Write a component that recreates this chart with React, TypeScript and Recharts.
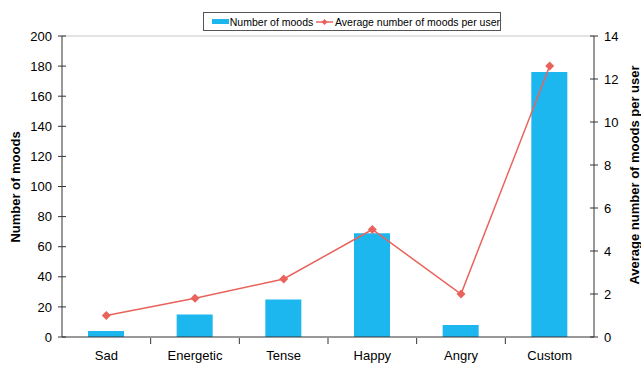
import React from 'react';
import {
  ComposedChart, Bar, Line, XAxis, YAxis, Legend, ReferenceLine,
} from 'recharts';

const categories = ['Sad', 'Energetic', 'Tense', 'Happy', 'Angry', 'Custom'];
const moodCounts = [4, 15, 25, 69, 8, 176];
const avgPerUser = [1.0, 1.8, 2.7, 5.0, 2.0, 12.6];
const countTicks = [0, 20, 40, 60, 80, 100, 120, 140, 160, 180, 200];
const avgTicks = [0, 2, 4, 6, 8, 10, 12, 14];

const BAR_COLOR = '#1bb7ee';
const LINE_COLOR = '#e9625c';
const FONT = '"Liberation Sans", Arial, sans-serif';

const data = categories.map((name, i) => ({
  name,
  moods: moodCounts[i],
  avg: avgPerUser[i],
}));

// tick marks that cross the axis line, like the old office charts
const LeftTick = (props: any) => {
  const { x, y, payload } = props;
  return (
    <g>
      <line x1={x + 6} x2={x + 14} y1={y} y2={y} stroke="#333" />
      <text x={x} y={y} dy="0.36em" textAnchor="end" fontSize={13} fill="#000" fontFamily={FONT}>
        {payload.value}
      </text>
    </g>
  );
};

const RightTick = (props: any) => {
  const { x, y, payload } = props;
  return (
    <g>
      <line x1={x - 14} x2={x - 6} y1={y} y2={y} stroke="#333" />
      <text x={x} y={y} dy="0.36em" textAnchor="start" fontSize={13} fill="#000" fontFamily={FONT}>
        {payload.value}
      </text>
    </g>
  );
};

// category label plus a separator tick at the right edge of each band
const CategoryTick = (props: any) => {
  const { x, y, payload, index, visibleTicksCount } = props;
  const half = payload.offset || 0;
  return (
    <g>
      {index < visibleTicksCount - 1 && (
        <line x1={x + half} x2={x + half} y1={y - 10} y2={y - 4} stroke="#333" />
      )}
      <text x={x} y={y} dy="0.9em" textAnchor="middle" fontSize={13} fill="#000" fontFamily={FONT}>
        {payload.value}
      </text>
    </g>
  );
};

const Diamond = (props: any) => {
  const { cx, cy } = props;
  if (cx == null || cy == null) return null;
  const r = 4.5;
  return (
    <polygon
      points={`${cx},${cy - r} ${cx + r},${cy} ${cx},${cy + r} ${cx - r},${cy}`}
      fill={LINE_COLOR}
    />
  );
};

const LegendBox = () => (
  <div
    style={{
      position: 'absolute',
      left: 203,
      top: 12,
      width: 298,
      height: 19,
      border: '1px solid #555',
      background: '#fff',
      display: 'flex',
      alignItems: 'center',
      fontFamily: FONT,
      fontSize: 10.5,
      color: '#000',
      whiteSpace: 'nowrap',
      boxSizing: 'border-box',
    }}
  >
    <span style={{ display: 'inline-block', width: 17, height: 5, background: BAR_COLOR, marginLeft: 8 }} />
    <span style={{ marginLeft: 1 }}>Number of moods</span>
    <svg width={17} height={10} style={{ marginLeft: 3 }}>
      <line x1={0} x2={17} y1={5} y2={5} stroke={LINE_COLOR} strokeWidth={1.5} />
      <polygon points="8.5,2 11.5,5 8.5,8 5.5,5" fill={LINE_COLOR} />
    </svg>
    <span style={{ marginLeft: 2 }}>Average number of moods per user</span>
  </div>
);

export default function App() {
  return (
    <div style={{ position: 'absolute', left: 0, top: 0, width: 641, height: 367, background: '#fff' }}>
      <ComposedChart
        width={641}
        height={367}
        data={data}
        margin={{ top: 36, right: 0, left: 0, bottom: 0 }}
        barCategoryGap="20%"
      >
        <XAxis
          dataKey="name"
          yAxisId="left"
          height={30}
          tickLine={false}
          tickSize={5}
          tickMargin={6}
          axisLine={{ stroke: '#333' }}
          tick={<CategoryTick />}
          interval={0}
        />
        <YAxis
          yAxisId="left"
          width={62}
          domain={[0, 200]}
          ticks={countTicks}
          interval={0}
          tickLine={false}
          tickSize={4}
          tickMargin={6}
          axisLine={{ stroke: '#333' }}
          tick={<LeftTick />}
          label={{
            content: () => (
              <text
                transform="translate(15,187) rotate(-90)"
                textAnchor="middle"
                dominantBaseline="central"
                fontSize={13}
                fontWeight="bold"
                fontFamily={FONT}
                fill="#000"
              >
                Number of moods
              </text>
            ),
          }}
        />
        <YAxis
          yAxisId="right"
          orientation="right"
          width={47}
          domain={[0, 14]}
          ticks={avgTicks}
          interval={0}
          tickLine={false}
          tickSize={4}
          tickMargin={6}
          axisLine={{ stroke: '#333' }}
          tick={<RightTick />}
          label={{
            content: () => (
              <text
                transform="translate(634,175) rotate(-90)"
                textAnchor="middle"
                dominantBaseline="central"
                fontSize={13}
                fontWeight="bold"
                fontFamily={FONT}
                fill="#000"
              >
                Average number of moods per user
              </text>
            ),
          }}
        />
        <ReferenceLine yAxisId="left" y={200} stroke="#c8c8c8" />
        <Legend content={() => null} />
        <Bar
          yAxisId="left"
          dataKey="moods"
          name="Number of moods"
          fill={BAR_COLOR}
          barSize={36}
          isAnimationActive={false}
        />
        <Line
          yAxisId="right"
          dataKey="avg"
          name="Average number of moods per user"
          stroke={LINE_COLOR}
          strokeWidth={1.5}
          dot={<Diamond />}
          activeDot={false}
          isAnimationActive={false}
        />
      </ComposedChart>
      <LegendBox />
    </div>
  );
}
